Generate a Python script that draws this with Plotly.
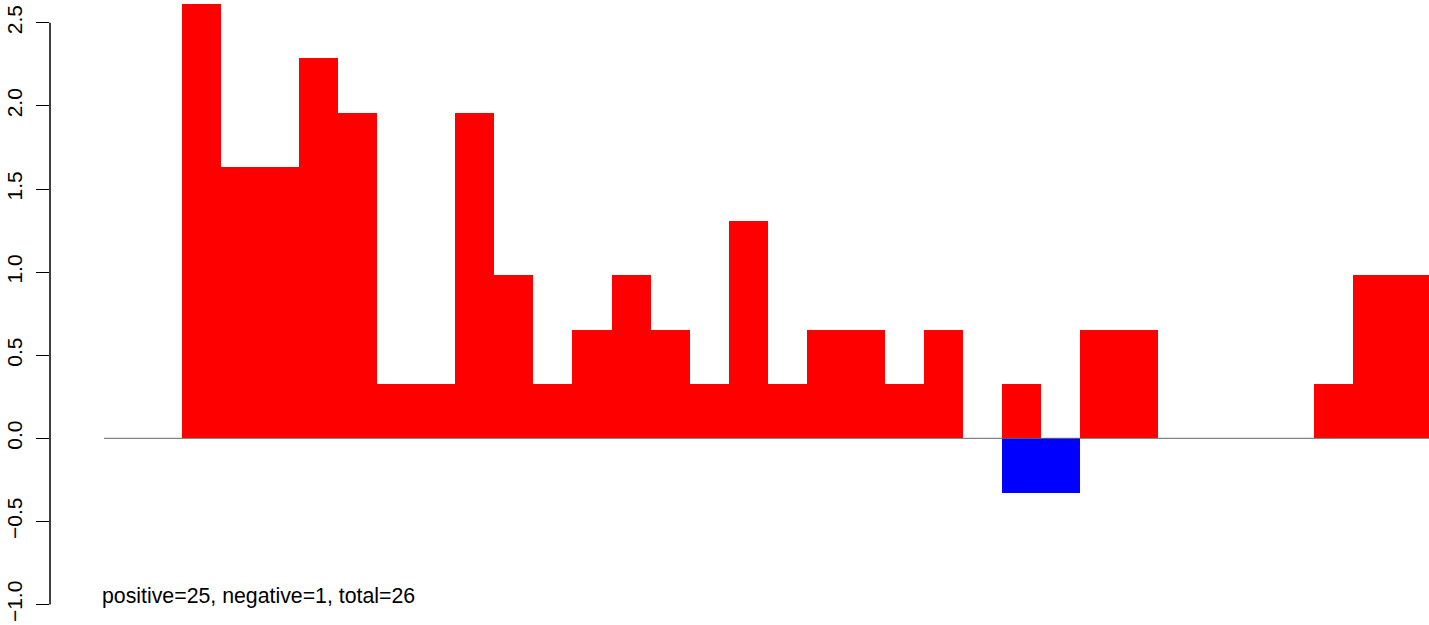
import plotly.graph_objects as go

# bar positions (0..33)
positions = list(range(34))
positive_vals = [0, 0, 2.613, 1.633, 1.633, 2.286, 1.96, 0.327, 0.327, 1.96,
                 0.98, 0.327, 0.653, 0.98, 0.653, 0.327, 1.306, 0.327, 0.653, 0.653,
                 0.327, 0.653, 0, 0.327, 0, 0.653, 0.653, 0, 0, 0,
                 0, 0.327, 0.98, 0.98]
negative_vals = [0, 0, 0, 0, 0, 0, 0, 0, 0, 0,
                 0, 0, 0, 0, 0, 0, 0, 0, 0, 0,
                 0, 0, 0, -0.327, -0.327, 0, 0, 0, 0, 0,
                 0, 0, 0, 0]
ytick_vals = [-1.0, -0.5, 0.0, 0.5, 1.0, 1.5, 2.0, 2.5]
ytick_text = ["\u22121.0", "\u22120.5", "0.0", "0.5", "1.0", "1.5", "2.0", "2.5"]
n_pos = 25
n_neg = 1
n_total = 26

FONT = "Liberation Sans, Arial, sans-serif"

fig = go.Figure()
# baseline
fig.add_trace(go.Scatter(
    x=[positions[0] - 0.5, positions[-1] + 0.5], y=[0, 0],
    mode="lines", line=dict(color="#666666", width=1),
    hoverinfo="skip", showlegend=False))
fig.add_trace(go.Bar(x=positions, y=positive_vals, width=1,
                     marker=dict(color="#FF0000", line=dict(width=0)),
                     showlegend=False))
fig.add_trace(go.Bar(x=positions, y=negative_vals, width=1,
                     marker=dict(color="#0000FF", line=dict(width=0)),
                     showlegend=False))

W, H = 1429, 625
left_px = 50
x0_px, unit_px = 104, 39.04
x_lo = positions[0] - 0.5 - (x0_px - left_px) / unit_px
x_hi = positions[0] - 0.5 + (W - x0_px) / unit_px

zero_px, yunit_px = 438.3, 166.2
y_hi = zero_px / yunit_px
y_lo = -(H - zero_px) / yunit_px

fig.update_layout(
    width=W, height=H,
    margin=dict(l=left_px, r=0, t=0, b=0, autoexpand=False),
    paper_bgcolor="white", plot_bgcolor="white",
    barmode="overlay", bargap=0,
    font=dict(family=FONT, size=21, color="black"),
    xaxis=dict(visible=False, range=[x_lo, x_hi]),
    yaxis=dict(range=[y_lo, y_hi], tickvals=ytick_vals, ticktext=ytick_text,
               ticks="outside", ticklen=13, tickwidth=1, tickcolor="black",
               tickangle=-90, showgrid=False, zeroline=False, showline=False,
               ticklabelstandoff=6, ticklabeloverflow="allow",
               tickfont=dict(family=FONT, size=21, color="black")),
    shapes=[dict(type="line", xref="paper", yref="y", x0=0, x1=0,
                 y0=ytick_vals[0], y1=ytick_vals[-1],
                 line=dict(color="black", width=1.5))],
    annotations=[dict(x=positions[0] - 0.5, y=-0.95, xref="x", yref="y",
                      text=f"positive={n_pos}, negative={n_neg}, total={n_total}",
                      showarrow=False, xanchor="left", yanchor="middle", xshift=-4,
                      font=dict(family=FONT, size=21.3, color="black"))],
)

fig.write_html("out.html",
               config={"displayModeBar": False},
               post_script="document.body.style.margin='0';document.body.style.overflow='hidden';")
